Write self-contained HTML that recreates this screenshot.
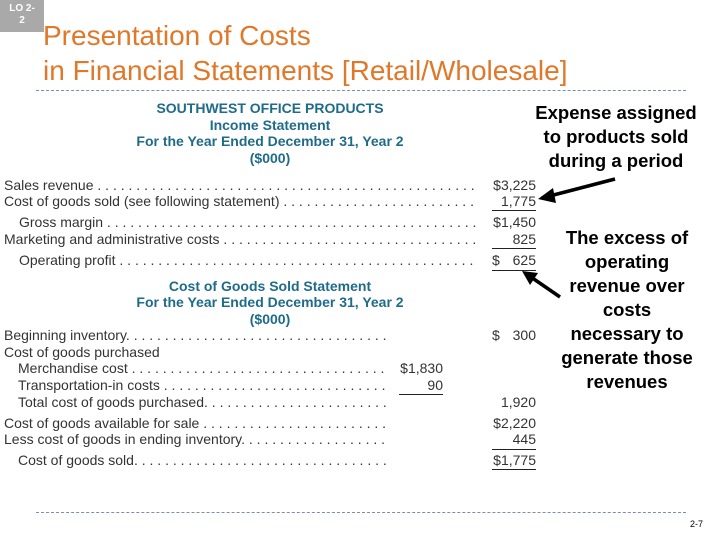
<!DOCTYPE html>
<html><head><meta charset="utf-8"><style>
*{margin:0;padding:0;box-sizing:border-box}
body{width:720px;height:540px;position:relative;background:#fff;overflow:hidden;font-family:"Liberation Sans",sans-serif}
.a{position:absolute;white-space:nowrap}
.t{font-size:28px;color:#e0782a;left:43px;line-height:32px}
.h{font-size:14px;font-weight:bold;color:#1f6b8a;text-align:center;line-height:16px}
.r{font-size:14px;color:#333;line-height:16px;overflow:hidden}
.n{font-size:14px;color:#333;line-height:16px;text-align:right}
.note{font-size:18.5px;font-weight:bold;color:#000;text-align:center;line-height:24px}
.dash{position:absolute;left:36px;width:650px;border-top:1px dashed #7d8fa6;height:0}
.ul{position:absolute;border-top:1px solid #222;height:0}
</style></head><body>
<div class="a" style="left:0;top:0;width:44px;height:32px;background:#a9a9a9;color:#fff;font-size:10px;font-weight:bold;text-align:center;line-height:12px;padding-top:3px;white-space:normal">LO 2-<br>2</div>
<div class="a t" style="top:20px">Presentation of Costs</div>
<div class="a t" style="top:55px">in Financial Statements [Retail/Wholesale]</div>
<div class="dash" style="top:90px"></div>
<div class="dash" style="top:512px"></div>
<div class="a" style="left:690px;top:519px;font-size:9px;color:#000">2-7</div>

<div class="a h" style="left:70px;width:400px;top:100px">SOUTHWEST OFFICE PRODUCTS</div>
<div class="a h" style="left:70px;width:400px;top:117px">Income Statement</div>
<div class="a h" style="left:70px;width:400px;top:133px">For the Year Ended December 31, Year 2</div>
<div class="a h" style="left:70px;width:400px;top:150px">($000)</div>

<div class="a r" style="left:4px;top:177px;width:472px">Sales revenue . . . . . . . . . . . . . . . . . . . . . . . . . . . . . . . . . . . . . . . . . . . . . . . . . . . . . . . . . . .</div>
<div class="a r" style="left:4px;top:193px;width:472px">Cost of goods sold (see following statement) . . . . . . . . . . . . . . . . . . . . . . . . . . . . . . . . . .</div>
<div class="a r" style="left:19px;top:214px;width:457px">Gross margin . . . . . . . . . . . . . . . . . . . . . . . . . . . . . . . . . . . . . . . . . . . . . . . . . . . . . . . . . . .</div>
<div class="a r" style="left:4px;top:231px;width:472px">Marketing and administrative costs . . . . . . . . . . . . . . . . . . . . . . . . . . . . . . . . . . . . . . . . . .</div>
<div class="a r" style="left:19px;top:252px;width:457px">Operating profit . . . . . . . . . . . . . . . . . . . . . . . . . . . . . . . . . . . . . . . . . . . . . . . . . . . . . . . . . . .</div>
<div class="a n" style="left:480px;width:56px;top:177px">$3,225</div>
<div class="a n" style="left:480px;width:56px;top:193px">1,775</div>
<div class="ul" style="left:492px;width:44px;top:210px"></div>
<div class="a n" style="left:480px;width:56px;top:214px">$1,450</div>
<div class="a n" style="left:480px;width:56px;top:231px">825</div>
<div class="ul" style="left:492px;width:44px;top:248px"></div>
<div class="a n" style="left:492px;width:44px;top:252px;display:flex;justify-content:space-between"><span>$</span><span>625</span></div>
<div class="ul" style="left:492px;width:44px;top:270px"></div>

<div class="a h" style="left:70px;width:400px;top:278px">Cost of Goods Sold Statement</div>
<div class="a h" style="left:70px;width:400px;top:294px">For the Year Ended December 31, Year 2</div>
<div class="a h" style="left:70px;width:400px;top:311px">($000)</div>

<div class="a r" style="left:4px;top:327px;width:385px">Beginning inventory. . . . . . . . . . . . . . . . . . . . . . . . . . . . . . . . . . . . . . . . . . . . . . . .</div>
<div class="a r" style="left:4px;top:344px;width:385px">Cost of goods purchased</div>
<div class="a r" style="left:18px;top:360px;width:371px">Merchandise cost . . . . . . . . . . . . . . . . . . . . . . . . . . . . . . . . . . . . . . . . . . . . . . . .</div>
<div class="a r" style="left:18px;top:377px;width:371px">Transportation-in costs . . . . . . . . . . . . . . . . . . . . . . . . . . . . . . . . . . . . . . . . . . . . . . . .</div>
<div class="a r" style="left:18px;top:394px;width:371px">Total cost of goods purchased. . . . . . . . . . . . . . . . . . . . . . . . . . . . . . . . . . . . . . . . . .</div>
<div class="a r" style="left:4px;top:415px;width:385px">Cost of goods available for sale . . . . . . . . . . . . . . . . . . . . . . . . . . . . . . . . . . . . . . . . . .</div>
<div class="a r" style="left:4px;top:431px;width:385px">Less cost of goods in ending inventory. . . . . . . . . . . . . . . . . . . . . . . . . . . . . . . . . . . . .</div>
<div class="a r" style="left:18px;top:452px;width:371px">Cost of goods sold. . . . . . . . . . . . . . . . . . . . . . . . . . . . . . . . . . . . . . . . . . . . . . . . . . .</div>

<div class="a n" style="left:492px;width:44px;top:327px;display:flex;justify-content:space-between"><span>$</span><span>300</span></div>
<div class="a n" style="left:390px;width:53px;top:360px">$1,830</div>
<div class="a n" style="left:390px;width:53px;top:377px">90</div>
<div class="ul" style="left:399px;width:44px;top:394px"></div>
<div class="a n" style="left:480px;width:56px;top:394px">1,920</div>
<div class="a n" style="left:480px;width:56px;top:415px">$2,220</div>
<div class="a n" style="left:480px;width:56px;top:431px">445</div>
<div class="ul" style="left:492px;width:44px;top:449px"></div>
<div class="a n" style="left:480px;width:56px;top:452px">$1,775</div>
<div class="ul" style="left:492px;width:44px;top:469px"></div>

<div class="a note" style="left:516px;width:200px;top:101px">Expense assigned<br>to products sold<br>during a period</div>
<div class="a note" style="left:547px;width:160px;top:226px">The excess of<br>operating<br>revenue over<br>costs<br>necessary to<br>generate those<br>revenues</div>

<svg class="a" style="left:0;top:0" width="720" height="540">
<line x1="615" y1="179" x2="542" y2="198" stroke="#000" stroke-width="3.5"/>
<polygon points="538,199 553,188 556,203" fill="#000"/>
<line x1="560" y1="297" x2="528" y2="275" stroke="#000" stroke-width="3.5"/>
<polygon points="522,271 538,273 530,285" fill="#000"/>
</svg>
</body></html>
